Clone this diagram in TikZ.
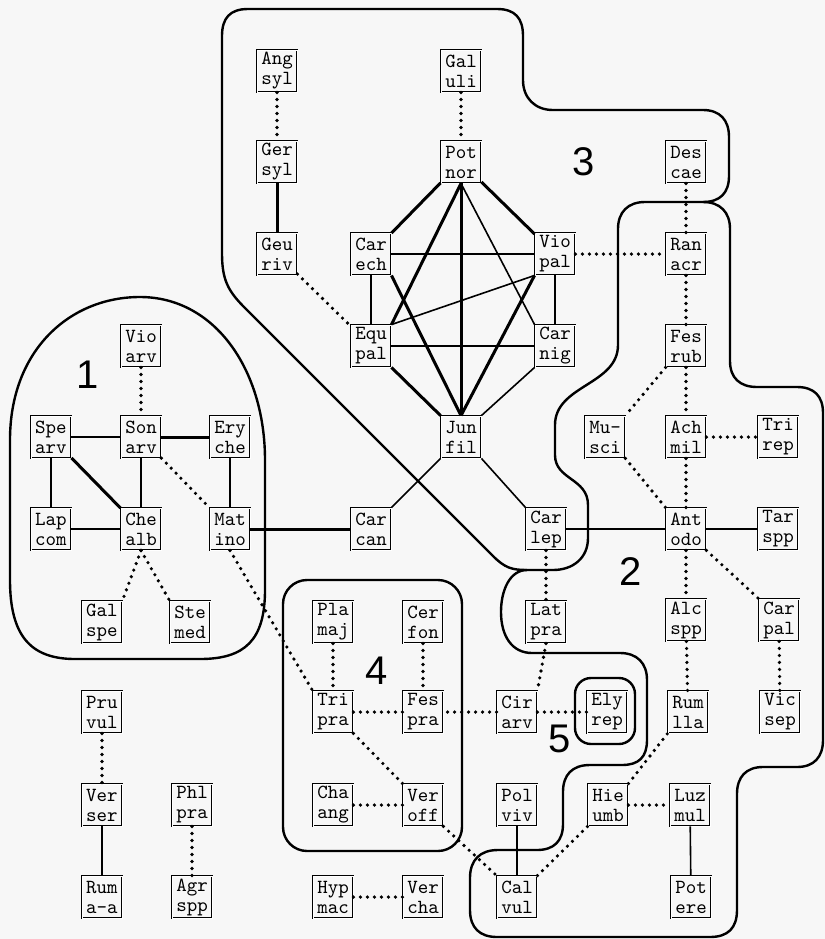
\documentclass[tikz,border=0pt]{standalone}
\usepackage{fontspec}
\setmainfont{Liberation Sans}

\begin{document}
\begin{tikzpicture}[x=0.5pt, y=-0.5pt,
  sp/.style={draw, double, double distance=0.5pt, line width=0.45pt,
    minimum width=20pt, minimum height=21pt, inner sep=1pt, align=center,
    font=\ttfamily\fontsize{10}{10}\selectfont},
  weak/.style={line width=1.8pt, line cap=round, dash pattern=on 0pt off 3.5pt},
  tie/.style={line width=0.8pt},
  strong/.style={line width=1.5pt},
  zone/.style={line width=1.2pt},
  num/.style={font=\fontsize{20}{20}\selectfont}]

% 画布（与原图同比例）
\useasboundingbox (0, 0) rectangle (825, 939);
\fill[black!3] (0, 0) rectangle (825, 939);

% 区域 1
\draw[zone] (10, 580) -- (10, 440) .. controls (10, 350) and (70, 297) .. (140, 297)
  .. controls (215, 297) and (265, 370) .. (265, 460) -- (265, 590)
  .. controls (265, 640) and (245, 659) .. (200, 659) -- (75, 659)
  .. controls (30, 659) and (10, 635) .. (10, 580) -- cycle;

% 区域 3（与区域 2 共用左下一段边界）
\draw[zone] (222, 253) -- (222, 36) .. controls (222, 18) and (230, 9) .. (248, 9)
  -- (497, 9) .. controls (515, 9) and (523, 18) .. (523, 36)
  -- (523, 80) .. controls (523, 98) and (535, 110) .. (553, 110)
  -- (703, 110) .. controls (720, 110) and (729, 120) .. (729, 137)
  -- (729, 176) .. controls (729, 193) and (720, 202) .. (703, 202)
  -- (645, 202) .. controls (628, 202) and (618, 212) .. (618, 229)
  -- (618, 345) .. controls (618, 385) and (555, 385) .. (555, 425)
  -- (555, 455) .. controls (555, 480) and (588, 478) .. (588, 505)
  -- (588, 538) .. controls (588, 558) and (573, 570) .. (553, 570)
  -- (527, 570) .. controls (512, 570) and (505, 568) .. (493, 556)
  -- (245, 308) .. controls (228, 291) and (222, 280) .. (222, 253) -- cycle;

% 区域 2（外侧边界）
\draw[zone] (527, 570) .. controls (510, 570) and (501, 590) .. (501, 612)
  .. controls (501, 636) and (512, 653) .. (532, 653)
  -- (620, 653) .. controls (637, 653) and (647, 663) .. (647, 680)
  -- (647, 740) .. controls (647, 757) and (639, 765) .. (622, 765)
  -- (590, 765) .. controls (572, 765) and (563, 775) .. (563, 792)
  -- (563, 824) .. controls (563, 841) and (554, 850) .. (537, 850)
  -- (498, 850) .. controls (480, 850) and (470, 860) .. (470, 878)
  -- (470, 910) .. controls (470, 928) and (480, 937) .. (497, 937)
  -- (710, 937) .. controls (728, 937) and (737, 928) .. (737, 910)
  -- (737, 794) .. controls (737, 777) and (746, 767) .. (763, 767)
  -- (797, 767) .. controls (814, 767) and (823, 757) .. (823, 740)
  -- (823, 413) .. controls (823, 396) and (814, 387) .. (797, 387)
  -- (757, 387) .. controls (740, 387) and (730, 378) .. (730, 361)
  -- (730, 229) .. controls (730, 212) and (720, 202) .. (703, 202);

% 区域 4、区域 5
\draw[zone, rounded corners=12pt] (283, 580) rectangle (462, 851);
\draw[zone, rounded corners=8pt] (575, 678) rectangle (635, 744);

% 区域编号
\node[num] (n1) at (88, 375) {1};
\node[num] (n2) at (631, 572) {2};
\node[num] (n3) at (584, 162) {3};
\node[num] (n4) at (377, 671) {4};
\node[num] (n5) at (560, 739) {5};

% 物种方框：第 1--4 行
\node[sp] (Angsyl) at (277, 71) {Ang\\syl};
\node[sp] (Galuli) at (461, 71) {Gal\\uli};
\node[sp] (Gersyl) at (277, 162) {Ger\\syl};
\node[sp] (Potnor) at (461, 162) {Pot\\nor};
\node[sp] (Descae) at (686, 162) {Des\\cae};
\node[sp] (Geuriv) at (277, 254) {Geu\\riv};
\node[sp] (Carech) at (371, 254) {Car\\ech};
\node[sp] (Viopal) at (555, 254) {Vio\\pal};
\node[sp] (Ranacr) at (686, 254) {Ran\\acr};
\node[sp] (Vioarv) at (141, 346) {Vio\\arv};
\node[sp] (Equpal) at (371, 346) {Equ\\pal};
\node[sp] (Carnig) at (555, 346) {Car\\nig};
\node[sp] (Fesrub) at (686, 346) {Fes\\rub};

% 第 5--7 行
\node[sp] (Spearv) at (51, 437) {Spe\\arv};
\node[sp] (Sonarv) at (141, 437) {Son\\arv};
\node[sp] (Eryche) at (230, 437) {Ery\\che};
\node[sp] (Junfil) at (461, 437) {Jun\\fil};
\node[sp] (Musci)  at (605, 437) {Mu-\\sci};
\node[sp] (Achmil) at (686, 437) {Ach\\mil};
\node[sp] (Trirep) at (778, 437) {Tri\\rep};
\node[sp] (Lapcom) at (51, 529) {Lap\\com};
\node[sp] (Chealb) at (141, 529) {Che\\alb};
\node[sp] (Matino) at (230, 529) {Mat\\ino};
\node[sp] (Carcan) at (371, 529) {Car\\can};
\node[sp] (Carlep) at (546, 529) {Car\\lep};
\node[sp] (Antodo) at (686, 529) {Ant\\odo};
\node[sp] (Tarspp) at (778, 529) {Tar\\spp};
\node[sp] (Galspe) at (102, 622) {Gal\\spe};
\node[sp] (Stemed) at (190, 622) {Ste\\med};
\node[sp] (Plamaj) at (333, 622) {Pla\\maj};
\node[sp] (Cerfon) at (423, 622) {Cer\\fon};
\node[sp] (Latpra) at (546, 622) {Lat\\pra};
\node[sp] (Alcspp) at (686, 620) {Alc\\spp};
\node[sp] (Carpal) at (779, 620) {Car\\pal};

% 第 8--10 行
\node[sp] (Pruvul) at (102, 712) {Pru\\vul};
\node[sp] (Tripra) at (333, 712) {Tri\\pra};
\node[sp] (Fespra) at (423, 712) {Fes\\pra};
\node[sp] (Cirarv) at (517, 712) {Cir\\arv};
\node[sp] (Elyrep) at (607, 712) {Ely\\rep};
\node[sp] (Rumlla) at (688, 712) {Rum\\lla};
\node[sp] (Vicsep) at (780, 712) {Vic\\sep};
\node[sp] (Verser) at (102, 805) {Ver\\ser};
\node[sp] (Phlpra) at (192, 805) {Phl\\pra};
\node[sp] (Chaang) at (333, 805) {Cha\\ang};
\node[sp] (Veroff) at (423, 805) {Ver\\off};
\node[sp] (Polviv) at (517, 805) {Pol\\viv};
\node[sp] (Hieumb) at (608, 805) {Hie\\umb};
\node[sp] (Luzmul) at (690, 805) {Luz\\mul};
\node[sp] (Rumaa)  at (102, 897) {Rum\\a-a};
\node[sp] (Agrspp) at (192, 897) {Agr\\spp};
\node[sp] (Hypmac) at (333, 897) {Hyp\\mac};
\node[sp] (Vercha) at (423, 897) {Ver\\cha};
\node[sp] (Calvul) at (517, 897) {Cal\\vul};
\node[sp] (Potere) at (691, 897) {Pot\\ere};

% 区域 1 内的连线
\draw[weak] (Vioarv) -- (Sonarv);
\draw[tie] (Spearv) -- (Sonarv);
\draw[strong] (Sonarv) -- (Eryche);
\draw[tie] (Spearv) -- (Lapcom);
\draw[strong] (Spearv) -- (Chealb);
\draw[tie] (Sonarv) -- (Chealb);
\draw[weak] (Sonarv) -- (Matino);
\draw[tie] (Eryche) -- (Matino);
\draw[tie] (Lapcom) -- (Chealb);
\draw[weak] (Chealb.south) -- (Galspe.north east);
\draw[weak] (Chealb.south) -- (Stemed.north west);
\draw[strong] (Matino) -- (Carcan);

% 区域 3 内的连线（中间的团）
\draw[weak] (Angsyl) -- (Gersyl);
\draw[strong] (Gersyl) -- (Geuriv);
\draw[weak] (Geuriv) -- (Equpal);
\draw[weak] (Galuli) -- (Potnor);
\draw[strong] (Potnor) -- (Carech);
\draw[strong] (Potnor) -- (Viopal);
\draw[strong] (Potnor.south) -- (Equpal.north east);
\draw[strong] (Potnor) -- (Junfil);
\draw[tie] (Potnor.south) -- (Carnig.north west);
\draw[tie] (Carech) -- (Viopal);
\draw[tie] (Carech) -- (Equpal);
\draw[strong] (Carech.south east) -- (Junfil.north);
\draw[tie] (Viopal.south west) -- (Equpal.north east);
\draw[tie] (Viopal) -- (Carnig);
\draw[strong] (Viopal.south west) -- (Junfil.north);
\draw[tie] (Equpal) -- (Carnig);
\draw[strong] (Equpal.south east) -- (Junfil.north west);
\draw[tie] (Carnig.south west) -- (Junfil.north east);
\draw[tie] (Junfil.south west) -- (Carcan.north east);
\draw[tie] (Junfil.south east) -- (Carlep.north west);
\draw[weak] (Viopal) -- (Ranacr);

% 区域 2 内的连线
\draw[weak] (Descae) -- (Ranacr);
\draw[weak] (Ranacr) -- (Fesrub);
\draw[weak] (Fesrub.south west) -- (Musci.north east);
\draw[weak] (Fesrub) -- (Achmil);
\draw[weak] (Achmil) -- (Trirep);
\draw[weak] (Achmil) -- (Antodo);
\draw[weak] (Musci.south east) -- (Antodo.north west);
\draw[tie] (Carlep) -- (Antodo);
\draw[tie] (Antodo) -- (Tarspp);
\draw[weak] (Antodo) -- (Alcspp);
\draw[weak] (Antodo.south east) -- (Carpal.north west);
\draw[weak] (Alcspp) -- (Rumlla);
\draw[weak] (Carpal) -- (Vicsep);
\draw[weak] (Carlep) -- (Latpra);
\draw[weak] (Latpra.south) -- (Cirarv.north east);
\draw[weak] (Calvul.north east) -- (Hieumb.south west);
\draw[weak] (Hieumb.north east) -- (Rumlla.south west);
\draw[weak] (Hieumb) -- (Luzmul);
\draw[tie] (Luzmul) -- (Potere);

% 区域 4、5 及其余连线
\draw[weak] (Cirarv) -- (Fespra);
\draw[weak] (Cirarv) -- (Elyrep);
\draw[weak] (Tripra) -- (Fespra);
\draw[weak] (Cerfon) -- (Fespra);
\draw[weak] (Plamaj) -- (Tripra);
\draw[weak] (Tripra.south east) -- (Veroff.north west);
\draw[weak] (Matino.south) -- (Tripra.north west);
\draw[weak] (Chaang) -- (Veroff);
\draw[weak] (Veroff.south east) -- (Calvul.north west);
\draw[tie] (Polviv) -- (Calvul);
\draw[weak] (Hypmac) -- (Vercha);
\draw[weak] (Pruvul) -- (Verser);
\draw[tie] (Verser) -- (Rumaa);
\draw[weak] (Phlpra) -- (Agrspp);

\end{tikzpicture}
\end{document}
